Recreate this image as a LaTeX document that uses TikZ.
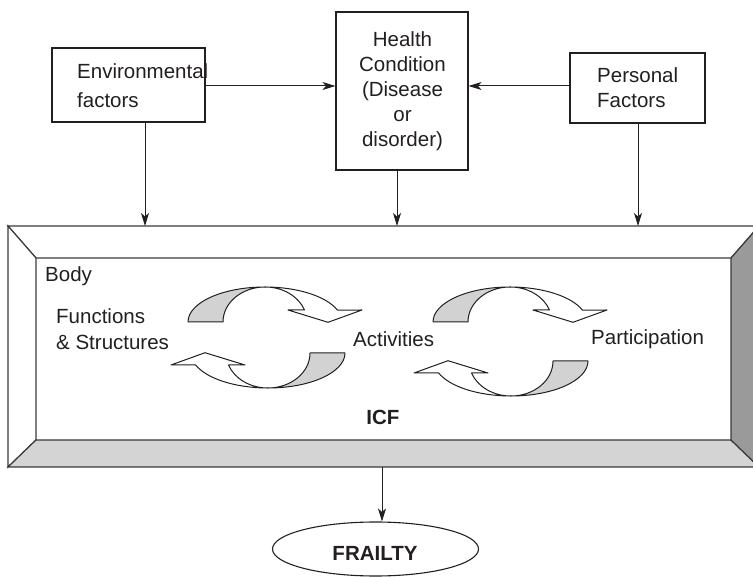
\documentclass[tikz,border=0pt]{standalone}
\usepackage{fontspec}
\setmainfont{Liberation Sans}
\usetikzlibrary{arrows.meta,shapes.geometric}
\definecolor{ink}{HTML}{231F20}
\definecolor{ribgray}{HTML}{D2D2D2}
\definecolor{botgray}{HTML}{D4D4D4}
\definecolor{rightgray}{HTML}{9A9A9A}
\definecolor{edge}{HTML}{3A3A3A}
\tikzset{
  box/.style={draw=ink, line width=1.1pt, fill=white, inner sep=0pt},
  lbl/.style={text=ink, inner sep=0pt, font=\fontsize{20.5}{25}\selectfont},
  blbl/.style={lbl, font=\fontsize{20.5}{25}\selectfont\bfseries},
  arr/.style={draw=ink, line width=1pt, -{Stealth[length=13pt,width=8pt,inset=3.5pt]}},
  ribbon/.style={draw=ink, line width=1pt, line join=round},
  bev/.style={draw=edge, line width=1.2pt, line join=miter},
  cyc/.pic={
    \filldraw[ribbon, fill=ribgray] (-77,0)
      arc[start angle=180,end angle=270,x radius=77,y radius=35]
      arc[start angle=270,end angle=180,x radius=42,y radius=35] -- cycle;
    \filldraw[ribbon, fill=white] (0,-35)
      arc[start angle=270,end angle=340,x radius=77,y radius=35]
      -- (97,-12) -- (63,0.3) -- (23,-12) -- (39.5,-12)
      arc[start angle=340,end angle=270,x radius=42,y radius=35] -- cycle;
  }
}
\begin{document}
\begin{tikzpicture}[x=1pt,y=-1pt]
\clip (0,0) rectangle (753,577);
% top boxes
\node[box, minimum width=153pt, minimum height=74pt] (env) at (128.5,85) {};
\node[box, minimum width=132pt, minimum height=158pt] (health) at (402,91) {};
\node[box, minimum width=135pt, minimum height=70pt] (pers) at (637.5,88) {};
\node[lbl, anchor=base west] (envt1) at (77,79) {Environmental};
\node[lbl, anchor=base west] (envt2) at (77,108) {factors};
\node[lbl, anchor=base] (ht1) at (402.5,47) {Health};
\node[lbl, anchor=base] (ht2) at (402.5,72) {Condition};
\node[lbl, anchor=base] (ht3) at (402.5,97) {(Disease};
\node[lbl, anchor=base] (ht4) at (402.5,122) {or};
\node[lbl, anchor=base] (ht5) at (402.5,147) {disorder)};
\node[lbl, anchor=base west] (pt1) at (597,83) {Personal};
\node[lbl, anchor=base west] (pt2) at (597,108) {Factors};
% frame
\coordinate (o1) at (8,226);
\coordinate (o2) at (759,226);
\coordinate (o3) at (759,467);
\coordinate (o4) at (8,467);
\coordinate (i1) at (36,258);
\coordinate (i2) at (731,258);
\coordinate (i3) at (731,440);
\coordinate (i4) at (36,440);
\filldraw[bev, fill=white] (o1) -- (o2) -- (i2) -- (i1) -- cycle;
\filldraw[bev, fill=white] (o1) -- (i1) -- (i4) -- (o4) -- cycle;
\filldraw[bev, fill=botgray] (o4) -- (i4) -- (i3) -- (o3) -- cycle;
\filldraw[bev, fill=rightgray] (o2) -- (i2) -- (i3) -- (o3) -- cycle;
% connectors
\coordinate (h1) at (0,86);
\coordinate (t1) at (145,226);
\coordinate (t2) at (397,226);
\coordinate (t3) at (638,226);
\coordinate (b1) at (382,467);
\draw[arr] (env.east |- h1) -- (health.west |- h1);
\draw[arr] (pers.west |- h1) -- (health.east |- h1);
\draw[arr] (env.south -| t1) -- (t1);
\draw[arr] (health.south -| t2) -- (t2);
\draw[arr] (pers.south -| t3) -- (t3);
% inner texts
\node[lbl, anchor=base west] (body) at (45,282) {Body};
\node[lbl, anchor=base west] (fs1) at (56,324) {Functions};
\node[lbl, anchor=base west] (fs2) at (56,350) {\& Structures};
\node[lbl, anchor=base west] (act) at (353,347) {Activities};
\node[lbl, anchor=base west] (part) at (591,345) {Participation};
\node[blbl, anchor=base] (icf) at (383,425) {ICF};
% cycle arrows
\pic at (265,322) {cyc};
\pic[rotate=180] at (268,353) {cyc};
\pic at (510,322) {cyc};
\pic[rotate=180] at (511,361) {cyc};
% frailty
\node[ellipse, draw=ink, line width=1.1pt, minimum width=206pt, minimum height=54pt, inner sep=0pt] (frailty) at (375.5,549) {};
\node[blbl, anchor=base] (frt) at (375,560) {FRAILTY};
\draw[arr] (b1) -- (b1 |- frailty.north);
\end{tikzpicture}
\end{document}
